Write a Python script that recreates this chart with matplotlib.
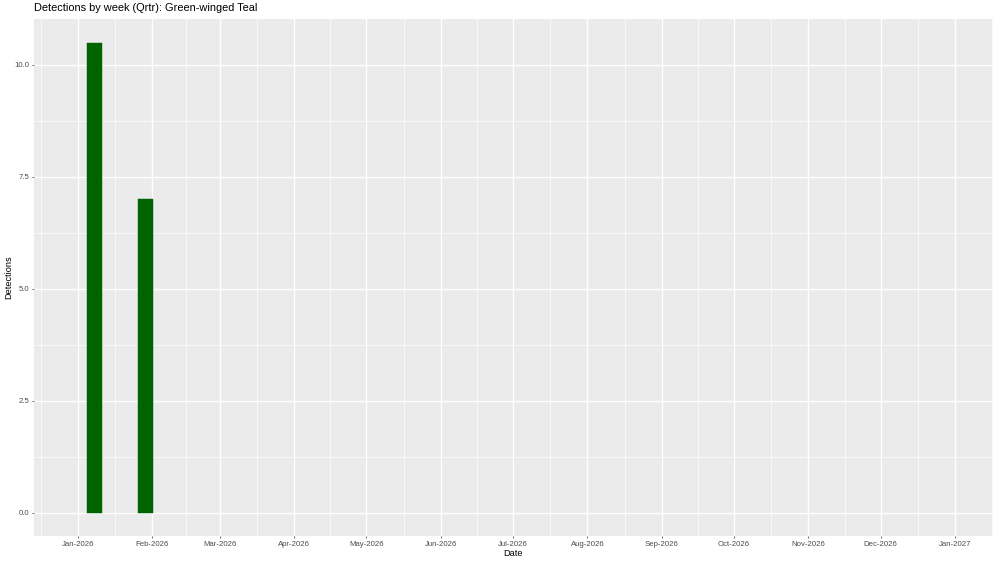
import matplotlib
matplotlib.use("Agg")
import matplotlib.pyplot as plt
import matplotlib.dates as mdates
import datetime as dt

# Data
week_centers = ["2026-01-08", "2026-01-29"]
detections = [10.5, 7.0]
y_ticks = [0.0, 2.5, 5.0, 7.5, 10.0]
y_tick_labels = ["0.0", "2.5", "5.0", "7.5", "10.0"]
month_breaks = ["2026-%02d-01" % m for m in range(1, 13)] + ["2027-01-01"]
month_labels = [dt.date.fromisoformat(d).strftime("%b-%Y") for d in month_breaks]

title = "Detections by week (Qrtr): Green-winged Teal"

plt.rcParams['font.family'] = ['Liberation Sans', 'DejaVu Sans']

W, H = 1000, 563
fig = plt.figure(figsize=(W / 100, H / 100), dpi=100)
pl, pr, pt, pb = 34, 993, 19, 536
ax = fig.add_axes([pl / W, 1 - pb / H, (pr - pl) / W, (pb - pt) / H])
ax.set_facecolor("#EBEBEB")

xc = mdates.date2num([dt.datetime.fromisoformat(d) for d in week_centers])
width = 6.3
ax.bar(xc, detections, width=width, color="#006400", edgecolor="#005a00",
       linewidth=0.3, zorder=3)

xb = mdates.date2num([dt.datetime.fromisoformat(d) for d in month_breaks])
ax.set_xlim(xb[0] - 18.3, xb[-1] + 15.8)
ax.set_ylim(-0.525, 11.025)

# minor breaks
xminor = list((xb[:-1] + xb[1:]) / 2)
xminor = [xb[0] - 15.5] + xminor + [xb[-1] + 15.5]
yminor = [1.25, 3.75, 6.25, 8.75]
for x in xminor:
    ax.axvline(x, color="white", lw=0.5, zorder=1)
for y in yminor:
    ax.axhline(y, color="white", lw=0.5, zorder=1)
for x in xb:
    ax.axvline(x, color="white", lw=1.0, zorder=1)
for y in y_ticks:
    ax.axhline(y, color="white", lw=1.0, zorder=1)

ax.set_xticks(xb)
ax.set_xticklabels(month_labels)
ax.set_yticks(y_ticks)
ax.set_yticklabels(y_tick_labels)
ax.tick_params(axis="both", length=1.7, width=0.5, color="#333333",
               labelcolor="#4D4D4D", labelsize=5.6, pad=1.6)
for s in ax.spines.values():
    s.set_visible(False)

fig.text((pl + pr) / 2 / W, 1 - 554 / H, "Date", fontsize=6.6,
         ha="center", va="center", color="black")
fig.text(9 / W, 1 - (pt + pb) / 2 / H, "Detections", fontsize=6.6,
         ha="center", va="center", rotation=90, color="black")
fig.text(pl / W, 1 - 8 / H, title, fontsize=7.9, ha="left", va="center",
         color="black")

fig.savefig("out.png", dpi=100, facecolor="white")
